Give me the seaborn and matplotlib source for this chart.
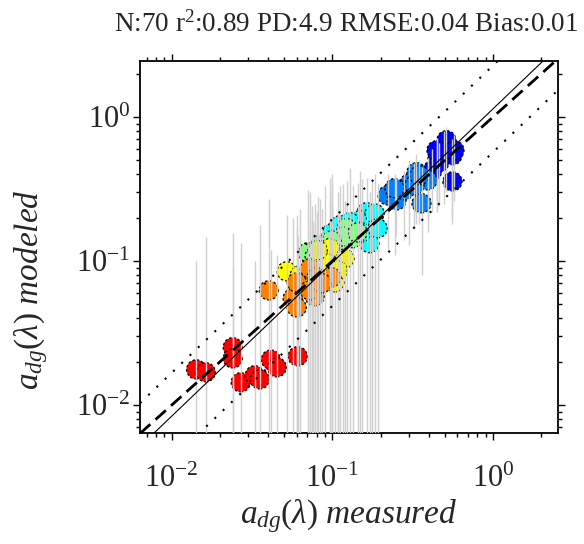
import numpy as np
import pandas as pd
import matplotlib
matplotlib.use("Agg")
import matplotlib.pyplot as plt
import seaborn as sns
from matplotlib.ticker import LogLocator, NullFormatter, LogFormatterSciNotation

# ---------------- data ----------------
groups = ["412", "443", "490", "510", "555", "620", "670"]
colors = ["#0000FF", "#0080FF", "#00FFFF", "#80FF80", "#FFFF00", "#FF8000", "#FF0000"]

blue_x = [0.4985, 0.4508, 0.5588, 0.5588, 0.4197, 0.3908, 0.4637, 0.5126, 0.5751, 0.4446]
blue_y = [0.616, 0.525, 0.542, 0.357, 0.426, 0.375, 0.485, 0.689, 0.587, 0.587]
blue_hi = [0.80, 0.72, 0.70, 0.55, 0.60, 0.52, 0.66, 0.85, 0.75, 0.70]
blue_lo = [0.25, 0.22, 0.20, 0.18, 0.22, 0.20, 0.24, 0.30, 0.26, 0.22]

lblue_x = [0.2205, 0.2506, 0.3019, 0.3334, 0.3588, 0.3908, 0.2810, 0.3242, 0.2436, 0.3483]
lblue_y = [0.286, 0.264, 0.346, 0.413, 0.252, 0.363, 0.310, 0.336, 0.320, 0.394]
lblue_hi = [0.40, 0.38, 0.50, 0.55, 0.45, 0.52, 0.42, 0.48, 0.40, 0.50]
lblue_lo = [0.12, 0.15, 0.13, 0.18, 0.08, 0.16, 0.14, 0.17, 0.11, 0.18]

cyan_x = [0.0990, 0.1633, 0.1754, 0.1705, 0.1478, 0.1110, 0.1832, 0.1521, 0.1281, 0.1911]
cyan_y = [0.156, 0.218, 0.177, 0.133, 0.192, 0.177, 0.214, 0.158, 0.186, 0.169]
cyan_hi = [0.34, 0.38, 0.36, 0.30, 0.42, 0.33, 0.40, 0.37, 0.44, 0.35]
cyan_lo = [0.001] * 10

green_x = [0.0703, 0.1227, 0.1337, 0.1078, 0.0962, 0.0834, 0.1159, 0.0990, 0.0776, 0.1436]
green_y = [0.115, 0.169, 0.144, 0.133, 0.119, 0.129, 0.148, 0.139, 0.108, 0.158]
green_hi = [0.31, 0.36, 0.33, 0.30, 0.38, 0.27, 0.34, 0.40, 0.25, 0.35]
green_lo = [0.001] * 10

yellow_x = [0.0520, 0.0962, 0.1192, 0.1033, 0.0744, 0.0896, 0.0810, 0.1078, 0.0755, 0.0627]
yellow_y = [0.0848, 0.123, 0.104, 0.0711, 0.0771, 0.098, 0.119, 0.0861, 0.0626, 0.0796]
yellow_hi = [0.21, 0.30, 0.26, 0.20, 0.24, 0.33, 0.28, 0.22, 0.19, 0.23]
yellow_lo = [0.001] * 10

orange_x = [0.0402, 0.0566, 0.0600, 0.0600, 0.0723, 0.0798, 0.0990, 0.0776, 0.0723, 0.0859]
orange_y = [0.0626, 0.0551, 0.0477, 0.0711, 0.0890, 0.0771, 0.0771, 0.0569, 0.0626, 0.0700]
orange_hi = [0.27, 0.20, 0.17, 0.21, 0.30, 0.22, 0.25, 0.18, 0.19, 0.23]
orange_lo = [0.001] * 10

red_x = [0.0142, 0.0163, 0.0240, 0.0240, 0.0269, 0.0329, 0.0353, 0.0414, 0.0451, 0.0608]
red_y = [0.0177, 0.0169, 0.0252, 0.0211, 0.0144, 0.0161, 0.0151, 0.0207, 0.0183, 0.0218]
red_hi = [0.10, 0.146, 0.156, 0.09, 0.133, 0.10, 0.177, 0.12, 0.11, 0.15]
red_lo = [0.001] * 10

fit_slope = 1.067      # log-log regression slope
fit_intercept = 0.057  # log10 intercept
band_factor = 2.0      # dotted lines: fit x2 and /2

title = "N:70 r$^2$:0.89 PD:4.9 RMSE:0.04 Bias:0.01"
xlim = (0.00635, 2.54)
ylim = (0.0064, 2.45)

# ---------------- table ----------------
xs = [blue_x, lblue_x, cyan_x, green_x, yellow_x, orange_x, red_x]
ys = [blue_y, lblue_y, cyan_y, green_y, yellow_y, orange_y, red_y]
his = [blue_hi, lblue_hi, cyan_hi, green_hi, yellow_hi, orange_hi, red_hi]
los = [blue_lo, lblue_lo, cyan_lo, green_lo, yellow_lo, orange_lo, red_lo]
rows = []
for g, gx, gy, gh, gl in zip(groups, xs, ys, his, los):
    for a, b, h, l in zip(gx, gy, gh, gl):
        rows.append({"band": g, "measured": a, "modeled": b, "hi": h, "lo": l})
df = pd.DataFrame(rows)

# ---------------- style ----------------
sns.set_theme(style="white")
plt.rcParams["font.family"] = ["Liberation Serif", "DejaVu Serif"]
plt.rcParams["mathtext.fontset"] = "custom"
plt.rcParams["mathtext.rm"] = "Liberation Serif"
plt.rcParams["mathtext.it"] = "Liberation Serif:italic"
plt.rcParams["mathtext.bf"] = "Liberation Serif:bold"
plt.rcParams["axes.unicode_minus"] = False

fig = plt.figure(figsize=(5.84, 5.44), dpi=100)
ax = fig.add_axes([0.2397, 0.204, 0.716, 0.684])

sns.scatterplot(data=df, x="measured", y="modeled", hue="band",
                palette=dict(zip(groups, colors)), hue_order=groups,
                s=190, edgecolor="black", linewidth=0.9,
                linestyle=(0, (2.0, 1.6)), legend=False, ax=ax, zorder=2)
ax.vlines(df["measured"], df["lo"], df["hi"], color="#d0d0d0", lw=1.0, zorder=3)

ax.set_xscale("log")
ax.set_yscale("log")
ax.set_xlim(*xlim)
ax.set_ylim(*ylim)

xx = np.array([xlim[0], xlim[1]])
fit = 10 ** fit_intercept * xx ** fit_slope
ax.plot(xx, xx, color="black", lw=2.0, ls=(0, (5, 2.5)), zorder=4)
ax.plot(xx, fit, color="black", lw=0.8, zorder=4)
ax.plot(xx, fit * band_factor, color="black", lw=1.5, ls=(0, (1, 4.5)), zorder=4)
ax.plot(xx, fit / band_factor, color="black", lw=1.5, ls=(0, (1, 4.5)), zorder=4)

for axis in (ax.xaxis, ax.yaxis):
    axis.set_major_locator(LogLocator(base=10, numticks=10))
    axis.set_minor_locator(LogLocator(base=10, subs=np.arange(2, 10), numticks=10))
    axis.set_minor_formatter(NullFormatter())
    axis.set_major_formatter(LogFormatterSciNotation())

ax.tick_params(which="both", direction="out", top=True, right=True,
               bottom=True, left=True, color="black", width=1.0)
ax.tick_params(which="major", length=5, labelsize=22)
ax.tick_params(which="minor", length=3)
ax.tick_params(axis="x", which="major", pad=18)
ax.tick_params(axis="y", which="major", pad=2)
for sp in ax.spines.values():
    sp.set_color("black")
    sp.set_linewidth(1.3)

ax.set_xlabel(r"$a_{dg}(\lambda)\ measured$", fontsize=24, labelpad=2)
ax.set_ylabel(r"$a_{dg}(\lambda)\ modeled$", fontsize=24, labelpad=8)
ax.yaxis.set_label_coords(-0.215, 0.385)
fig.text(0.593, 0.956, title, fontsize=19.5, ha="center", va="center")

fig.savefig("out.png", dpi=100)
